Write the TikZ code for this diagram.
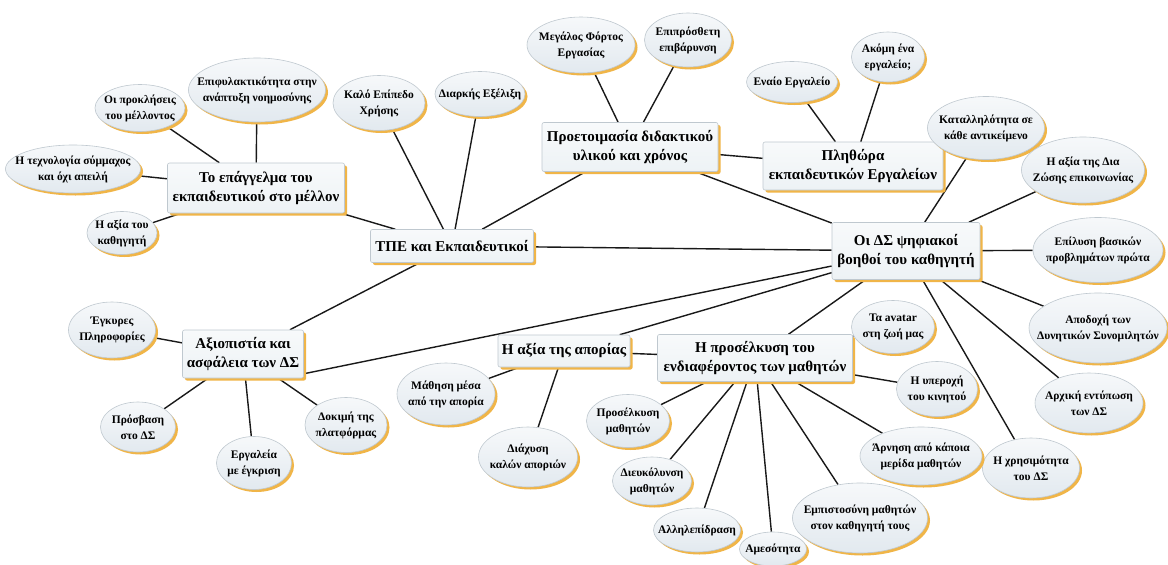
\documentclass[tikz,border=0pt]{standalone}
\usepackage{fontspec}
\setmainfont{Liberation Serif}
\usetikzlibrary{shapes.geometric,shadows,backgrounds}
\definecolor{shadowc}{HTML}{F0B548}
\definecolor{rectfill}{HTML}{EDF2F5}
\definecolor{ellfill}{HTML}{E2E9EF}
\definecolor{bordc}{HTML}{BFC8CF}
\tikzset{
  mainbox/.style 2 args={rectangle, rounded corners=2pt, draw=bordc, line width=0.6pt,
    top color=rectfill!40!white, bottom color=rectfill, inner sep=0pt, align=center,
    minimum width=#1pt, minimum height=#2pt,
    font=\bfseries\fontsize{15}{19.5}\selectfont,
    drop shadow={shadow xshift=2.5pt, shadow yshift=-2.5pt, fill=shadowc, opacity=1}},
  bubble/.style 2 args={ellipse, draw=bordc, line width=0.6pt,
    top color=ellfill!30!white, bottom color=ellfill, inner xsep=-20pt, inner ysep=-4pt, align=center,
    minimum width=#1pt, minimum height=#2pt,
    font=\bfseries\fontsize{11.5}{16}\selectfont,
    drop shadow={shadow xshift=2.5pt, shadow yshift=-2.5pt, fill=shadowc, opacity=1}},
  link/.style={draw=black!90, line width=1.4pt}
}
\begin{document}
\begin{tikzpicture}[x=1pt,y=-1pt]
\useasboundingbox (0,0) rectangle (1168,565);
% main boxes
\node[mainbox={177}{50}] (epag) at (256,188) {Το επάγγελμα του\\εκπαιδευτικού στο μέλλον};
\node[mainbox={163}{33}] (tpe) at (452,246) {ΤΠΕ και Εκπαιδευτικοί};
\node[mainbox={176}{49}] (proet) at (630,147) {Προετοιμασία διδακτικού\\υλικού και χρόνος};
\node[mainbox={180}{48}] (pleth) at (853,166) {Πληθώρα\\εκπαιδευτικών Εργαλείων};
\node[mainbox={148}{57}] (ds) at (906,251) {Οι ΔΣ ψηφιακοί\\βοηθοί του καθηγητή};
\node[mainbox={121}{48}] (axio) at (243,354) {Αξιοπιστία και\\ασφάλεια των ΔΣ};
\node[mainbox={132}{32}] (apor) at (564,351) {Η αξία της απορίας};
\node[mainbox={195}{47}] (prosel) at (755,358) {Η προσέλκυση του\\ενδιαφέροντος των μαθητών};
% bubbles
\node[bubble={90}{47}] (prokl) at (140,108) {Οι προκλήσεις\\του μέλλοντος};
\node[bubble={137}{64}] (epif) at (257,90) {Επιφυλακτικότητα στην\\ανάπτυξη νοημοσύνης};
\node[bubble={135}{48}] (techn) at (73,169) {Η τεχνολογία σύμμαχος\\και όχι απειλή};
\node[bubble={70}{43}] (axkath) at (122,233) {Η αξία του\\καθηγητή};
\node[bubble={92}{55}] (kalo) at (379,103) {Καλό Επίπεδο\\Χρήσης};
\node[bubble={90}{45}] (diark) at (480,94) {Διαρκής Εξέλιξη};
\node[bubble={108}{56}] (megal) at (581,45) {Μεγάλος Φόρτος\\Εργασίας};
\node[bubble={87}{54}] (epipr) at (688,40) {Επιπρόσθετη\\επιβάρυνση};
\node[bubble={91}{41}] (enaio) at (792,82) {Εναίο Εργαλείο};
\node[bubble={73}{50}] (akomi) at (888,57) {Ακόμη ένα\\εργαλείο;};
\node[bubble={117}{63}] (katal) at (986,128) {Καταλληλότητα σε\\κάθε αντικείμενο};
\node[bubble={123}{66}] (diaz) at (1083,170) {Η αξία της Δια\\Ζώσης επικοινωνίας};
\node[bubble={130}{65}] (epil) at (1098,250) {Επίλυση βασικών\\προβλημάτων πρώτα};
\node[bubble={138}{70}] (apod) at (1098,328) {Αποδοχή των\\Δυνητικών Συνομιλητών};
\node[bubble={108}{60}] (arx) at (1089,403) {Αρχική εντύπωση\\των ΔΣ};
\node[bubble={97}{60}] (xrisi) at (1031,468) {Η χρησιμότητα\\του ΔΣ};
\node[bubble={83}{53}] (avatar) at (893,327) {Τα avatar\\στη ζωή μας};
\node[bubble={81}{55}] (yper) at (937,389) {Η υπεροχή\\του κινητού};
\node[bubble={122}{58}] (arnisi) at (921,456) {Άρνηση από κάποια\\μερίδα μαθητών};
\node[bubble={135}{70}] (empis) at (860,518) {Εμπιστοσύνη μαθητών\\στον καθηγητή τους};
\node[bubble={67}{34}] (ames) at (773,549) {Αμεσότητα};
\node[bubble={87}{44}] (allil) at (697,530) {Αλληλεπίδραση};
\node[bubble={79}{48}] (dieuk) at (652,481) {Διευκόλυνση\\μαθητών};
\node[bubble={83}{53}] (prosm) at (628,421) {Προσέλκυση\\μαθητών};
\node[bubble={98}{62}] (mathi) at (446,394) {Μάθηση μέσα\\από την απορία};
\node[bubble={99}{60}] (diax) at (528,457) {Διάχυση\\καλών αποριών};
\node[bubble={87}{56}] (egkyr) at (112,330) {Έγκυρες\\Πληροφορίες};
\node[bubble={75}{50}] (prosv) at (138,427) {Πρόσβαση\\στο ΔΣ};
\node[bubble={75}{53}] (ergal) at (254,463) {Εργαλεία\\με έγκριση};
\node[bubble={82}{55}] (dokim) at (346,425) {Δοκιμή της\\πλατφόρμας};
% connectors
\begin{pgfonlayer}{background}
\fill[white] (0,0) rectangle (1168,565);
\draw[link] (tpe) -- (epag);
\draw[link] (tpe) -- (kalo);
\draw[link] (tpe) -- (diark);
\draw[link] (tpe) -- (proet);
\draw[link] (tpe) -- (ds);
\draw[link] (tpe) -- (axio);
\draw[link] (epag) -- (prokl);
\draw[link] (epag) -- (epif);
\draw[link] (epag) -- (techn);
\draw[link] (epag) -- (axkath);
\draw[link] (proet) -- (megal);
\draw[link] (proet) -- (epipr);
\draw[link] (proet) -- (pleth);
\draw[link] (proet) -- (ds);
\draw[link] (pleth) -- (enaio);
\draw[link] (pleth) -- (akomi);
\draw[link] (ds) -- (katal);
\draw[link] (ds) -- (diaz);
\draw[link] (ds) -- (epil);
\draw[link] (ds) -- (apod);
\draw[link] (ds) -- (arx);
\draw[link] (ds) -- (xrisi);
\draw[link] (ds) -- (prosel);
\draw[link] (ds) -- (apor);
\draw[link] (ds) -- (axio.-18);
\draw[link] (apor) -- (prosel);
\draw[link] (apor) -- (mathi);
\draw[link] (apor) -- (diax);
\draw[link] (prosel) -- (avatar);
\draw[link] (prosel) -- (yper);
\draw[link] (prosel) -- (arnisi);
\draw[link] (prosel) -- (empis);
\draw[link] (prosel) -- (ames);
\draw[link] (prosel) -- (allil);
\draw[link] (prosel) -- (dieuk);
\draw[link] (prosel) -- (prosm);
\draw[link] (axio) -- (egkyr);
\draw[link] (axio) -- (prosv);
\draw[link] (axio) -- (ergal);
\draw[link] (axio) -- (dokim);
\end{pgfonlayer}
\end{tikzpicture}
\end{document}
